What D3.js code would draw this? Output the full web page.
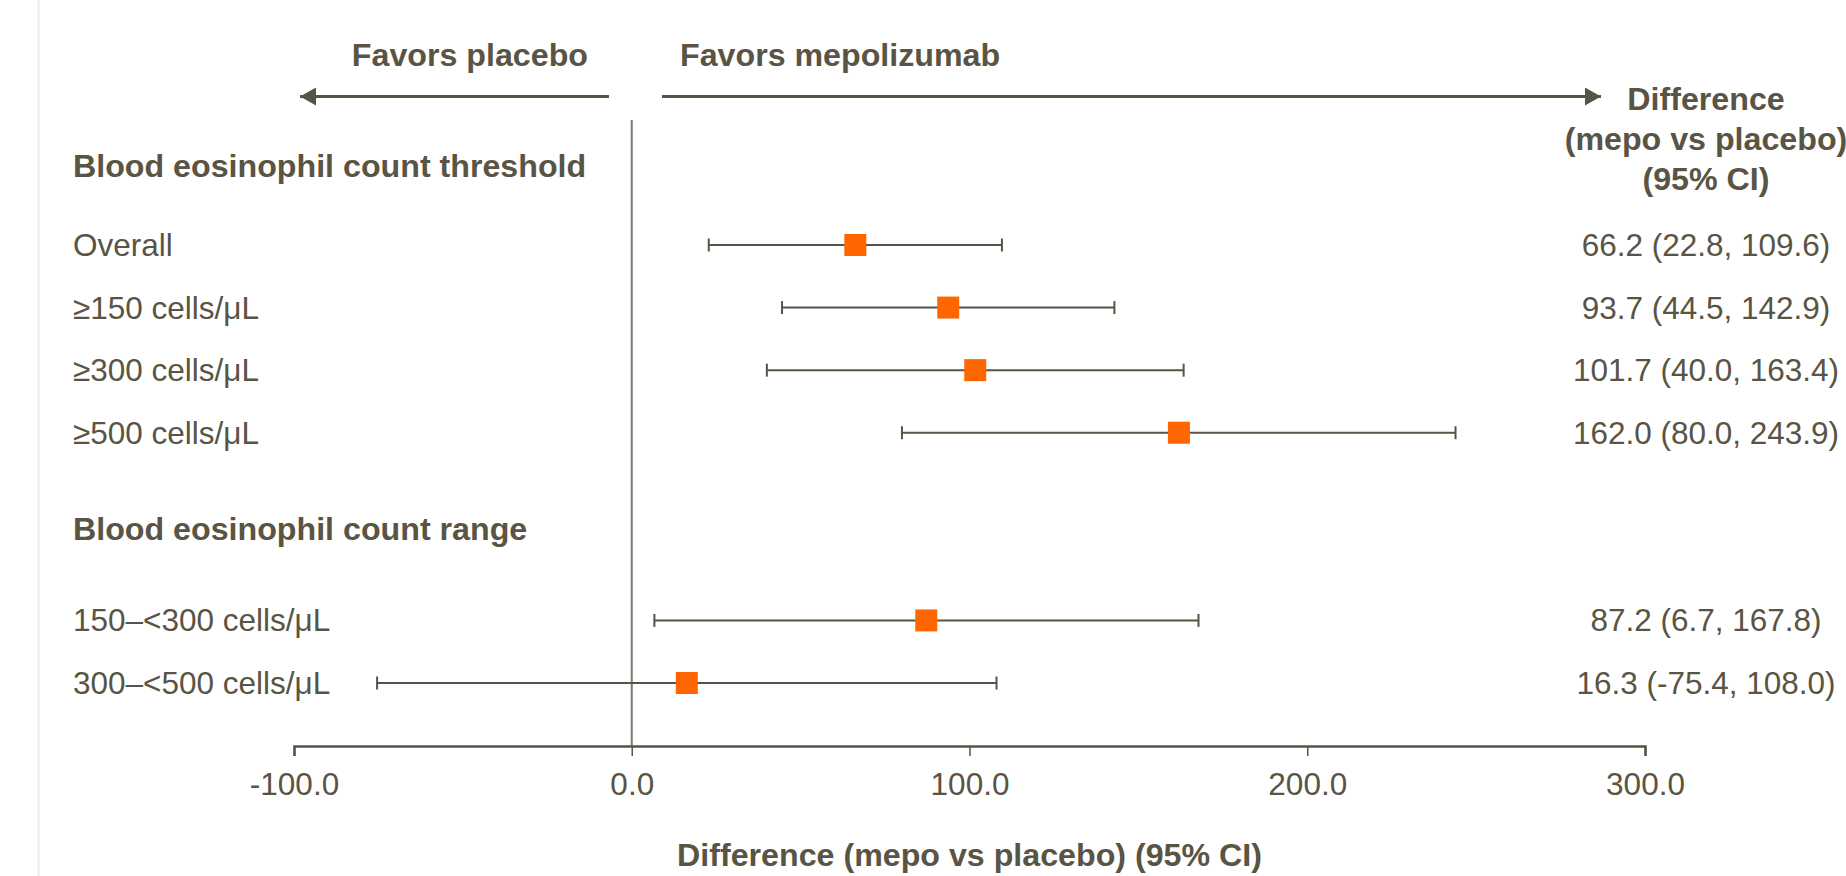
<!DOCTYPE html>
<html>
<head>
<meta charset="utf-8">
<script src="https://cdn.jsdelivr.net/npm/d3@7"></script>
<style>
  html, body { margin: 0; padding: 0; background: #ffffff; }
  svg { display: block; }
  text { font-family: "Liberation Sans", Arial, sans-serif; fill: #595443; }
</style>
</head>
<body>
<svg id="chart" width="1846" height="876"></svg>
<script>
// Subgroup labels and estimates (difference, lower and upper 95% CI)
const thresholdGroups = ["Overall", "≥150 cells/μL", "≥300 cells/μL", "≥500 cells/μL"];
const thresholdEstimate = [66.2, 93.7, 101.7, 162.0];
const thresholdLower = [22.8, 44.5, 40.0, 80.0];
const thresholdUpper = [109.6, 142.9, 163.4, 243.9];

const rangeGroups = ["150–<300 cells/μL", "300–<500 cells/μL"];
const rangeEstimate = [87.2, 16.3];
const rangeLower = [6.7, -75.4];
const rangeUpper = [167.8, 108.0];

const sectionTitles = ["Blood eosinophil count threshold", "Blood eosinophil count range"];
const xTicks = [-100, 0, 100, 200, 300];
const xTitle = "Difference (mepo vs placebo) (95% CI)";
const columnTitle = ["Difference", "(mepo vs placebo)", "(95% CI)"];
const favorsLeft = "Favors placebo";
const favorsRight = "Favors mepolizumab";

// ---- layout ----
const TEXT = "#595443";
const LINE = "#575345";
const ORANGE = "#ff6600";
const FS = 31.5;      // regular text
const FSB = 32.2;     // bold text
const colX = 1706;    // centre of the estimate column

const svg = d3.select("#chart");
const axisY = 746;

const x = d3.scaleLinear().domain([-100, 300]).range([294, 1645]);
// vertical positions measured in row units
const y = d3.scaleLinear().domain([0, 7]).range([245, 683]);

const thresholdSlots = [0, 1, 2, 3];
const rangeSlots = [6, 7];
const sectionSlots = [-1.26, 4.53];

const rows = [
  ...thresholdGroups.map((g, i) => ({ label: g, est: thresholdEstimate[i], lo: thresholdLower[i], hi: thresholdUpper[i], slot: thresholdSlots[i] })),
  ...rangeGroups.map((g, i) => ({ label: g, est: rangeEstimate[i], lo: rangeLower[i], hi: rangeUpper[i], slot: rangeSlots[i] }))
];

// light frame line on the left
svg.append("line")
  .attr("x1", 38.5).attr("x2", 38.5).attr("y1", 0).attr("y2", 876)
  .attr("stroke", "#ececec").attr("stroke-width", 2);

// direction arrows
const defs = svg.append("defs");
defs.append("marker")
  .attr("id", "arrowhead")
  .attr("viewBox", "0 0 16 18")
  .attr("refX", 16).attr("refY", 9)
  .attr("markerWidth", 16).attr("markerHeight", 18)
  .attr("markerUnits", "userSpaceOnUse")
  .attr("orient", "auto")
  .append("path")
  .attr("d", "M0,0 L16,9 L0,18 Z")
  .attr("fill", LINE);

const arrowY = 96.5;
svg.append("line")
  .attr("x1", 609).attr("x2", 300).attr("y1", arrowY).attr("y2", arrowY)
  .attr("stroke", LINE).attr("stroke-width", 2.8)
  .attr("marker-end", "url(#arrowhead)");
svg.append("line")
  .attr("x1", 662).attr("x2", 1601).attr("y1", arrowY).attr("y2", arrowY)
  .attr("stroke", LINE).attr("stroke-width", 2.8)
  .attr("marker-end", "url(#arrowhead)");

svg.append("text")
  .attr("x", 588).attr("y", 66)
  .attr("text-anchor", "end")
  .attr("font-size", FSB).attr("font-weight", "bold")
  .text(favorsLeft);
svg.append("text")
  .attr("x", 680).attr("y", 66)
  .attr("text-anchor", "start")
  .attr("font-size", FSB).attr("font-weight", "bold")
  .text(favorsRight);

// column header for the estimates
svg.append("g").selectAll("text")
  .data(columnTitle)
  .join("text")
  .attr("x", colX)
  .attr("y", (d, i) => 99 + i * 40)
  .attr("dy", "0.35em")
  .attr("text-anchor", "middle")
  .attr("font-size", FSB).attr("font-weight", "bold")
  .text(d => d);

// section titles
svg.append("g").selectAll("text")
  .data(sectionTitles)
  .join("text")
  .attr("x", 73)
  .attr("y", (d, i) => y(sectionSlots[i]))
  .attr("dy", "0.35em")
  .attr("font-size", FSB).attr("font-weight", "bold")
  .text(d => d);

// reference line at zero
svg.append("line")
  .attr("x1", x(0)).attr("x2", x(0))
  .attr("y1", 120).attr("y2", axisY)
  .attr("stroke", "#7d786a").attr("stroke-width", 2);

// x axis
const axis = d3.axisBottom(x)
  .tickValues(xTicks)
  .tickSize(10)
  .tickPadding(17)
  .tickFormat(d => d.toFixed(1));

const gAxis = svg.append("g")
  .attr("transform", `translate(0,${axisY})`)
  .call(axis);
gAxis.select(".domain")
  .attr("stroke", LINE).attr("stroke-width", 2.5);
gAxis.selectAll(".tick line")
  .attr("stroke", LINE).attr("stroke-width", 1.5);
gAxis.selectAll(".tick text")
  .attr("font-family", "Liberation Sans, Arial, sans-serif")
  .attr("font-size", FS)
  .attr("fill", TEXT);

svg.append("text")
  .attr("x", (x.range()[0] + x.range()[1]) / 2)
  .attr("y", 855)
  .attr("dy", "0.35em")
  .attr("text-anchor", "middle")
  .attr("font-size", FSB).attr("font-weight", "bold")
  .text(xTitle);

// rows: labels, CI whiskers, point estimates, value text
const rowG = svg.append("g").selectAll("g")
  .data(rows)
  .join("g")
  .attr("transform", d => `translate(0,${y(d.slot)})`);

rowG.append("text")
  .attr("x", 73)
  .attr("dy", "0.35em")
  .attr("font-size", FS)
  .text(d => d.label);

rowG.append("line")
  .attr("x1", d => x(d.lo)).attr("x2", d => x(d.hi))
  .attr("stroke", LINE).attr("stroke-width", 2);

rowG.append("line")
  .attr("x1", d => x(d.lo)).attr("x2", d => x(d.lo))
  .attr("y1", -6.5).attr("y2", 6.5)
  .attr("stroke", LINE).attr("stroke-width", 2);
rowG.append("line")
  .attr("x1", d => x(d.hi)).attr("x2", d => x(d.hi))
  .attr("y1", -6.5).attr("y2", 6.5)
  .attr("stroke", LINE).attr("stroke-width", 2);

const SQ = 22;
rowG.append("rect")
  .attr("x", d => x(d.est) - SQ / 2)
  .attr("y", -SQ / 2)
  .attr("width", SQ).attr("height", SQ)
  .attr("fill", ORANGE);

rowG.append("text")
  .attr("x", colX)
  .attr("dy", "0.35em")
  .attr("text-anchor", "middle")
  .attr("font-size", FS)
  .text(d => `${d.est.toFixed(1)} (${d.lo.toFixed(1)}, ${d.hi.toFixed(1)})`);
</script>
</body>
</html>
